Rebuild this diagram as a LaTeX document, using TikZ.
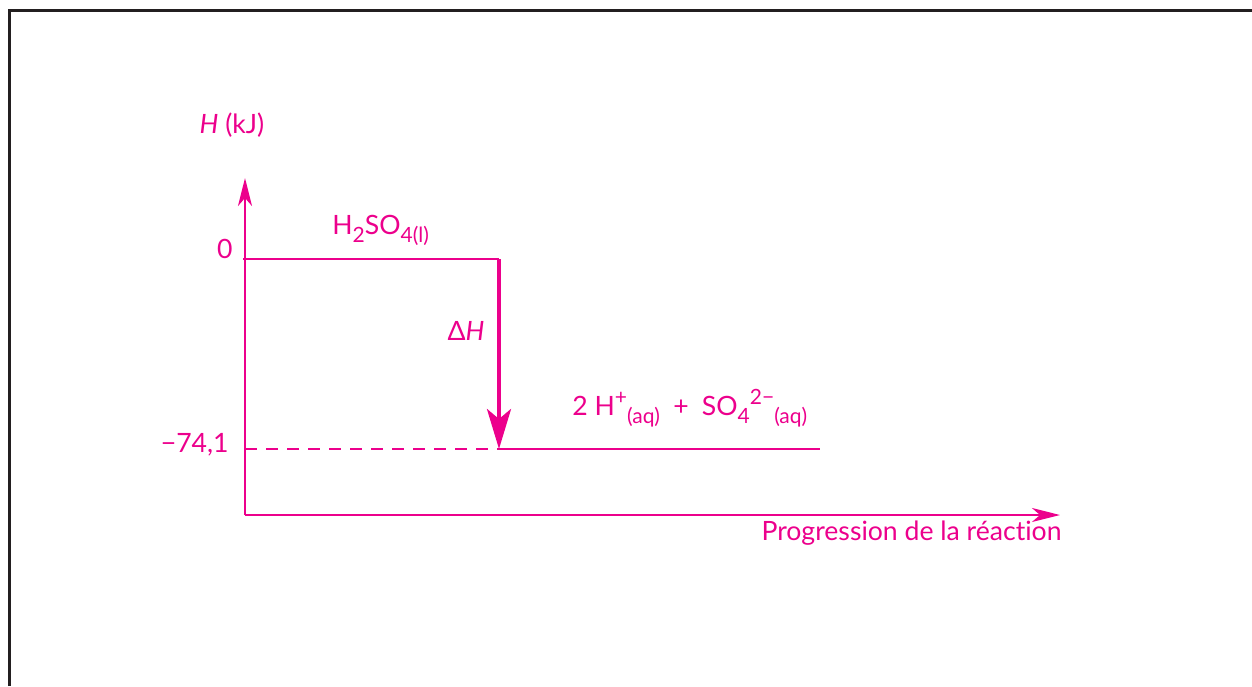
\documentclass[tikz,border=0pt]{standalone}
\usepackage{fontspec}
\setmainfont{Lato}[Ligatures={NoCommon}]
\usepackage{tikz}
\usetikzlibrary{arrows.meta}
\definecolor{rose}{RGB}{236,0,140}
\definecolor{cadre}{RGB}{35,31,32}
\newcommand{\ind}[1]{\raisebox{-0.6ex}{\fontsize{10.5}{11}\selectfont #1}}
\newcommand{\expo}[1]{\raisebox{0.8ex}{\fontsize{10.5}{11}\selectfont #1}}

\begin{document}
\begin{tikzpicture}[x=0.5pt, y=-0.5pt,
		axe/.style={draw=rose, line width=1.2pt, -{Stealth[length=14pt, width=7pt, inset=4pt]}, fill=rose},
		niveau/.style={draw=rose, line width=1.3pt},
		dH/.style={draw=rose, line width=2pt, -{Stealth[length=20pt, width=12pt, inset=5pt]}, fill=rose},
		lab/.style={text=rose, inner sep=0pt},
		font=\fontsize{13.3}{15}\selectfont]
		% Bildbereich
		\useasboundingbox (0,0) rectangle (1252,686);
		% Rahmen
		\draw[cadre, line width=1.5pt] (9,686) -- (9,10) -- (1252,10);
		% Punkte
		\coordinate (O) at (245,515);
		\coordinate (Ytop) at (245,178);
		\coordinate (Xend) at (1060,515);
		\coordinate (A0) at (243,259);
		\coordinate (A1) at (499,259);
		\coordinate (B0) at (245,449);
		\coordinate (B1) at (499,449);
		\coordinate (B2) at (820,449);
		% Achsen zeichnen
		\draw[axe] (O) -- (Ytop);
		\draw[axe] (O) -- (Xend);
		% Niveaus
		\draw[niveau] (A0) -- (A1);
		\draw[niveau, dash pattern=on 6pt off 4.5pt] (B0) -- (B1);
		\draw[niveau] (B1) -- (B2);
		\draw[dH] (A1) -- (B1);
		% Beschriftung
		\node[lab, anchor=base] (ylab) at (232,133) {\textit{H} (kJ)};
		\node[lab, anchor=base east] (zero) at (233,258) {0};
		\node[lab, anchor=base east] (val) at (229,452) {−74,1};
		\node[lab, anchor=base west] (reac) at (332,234) {H\ind{2}SO\ind{4(l)}};
		\node[lab, anchor=base east] (delta) at (485,340) {Δ\textit{H}};
		\node[lab, anchor=base west] (prod) at (572,415) {2 H\expo{+}\ind{(aq)}\enspace+\enspace SO\ind{4}\expo{2−}\ind{(aq)}};
		\node[lab, anchor=base east] (xlab) at (1062,540) {Progression de la réaction};
	\end{tikzpicture}
\end{document}
